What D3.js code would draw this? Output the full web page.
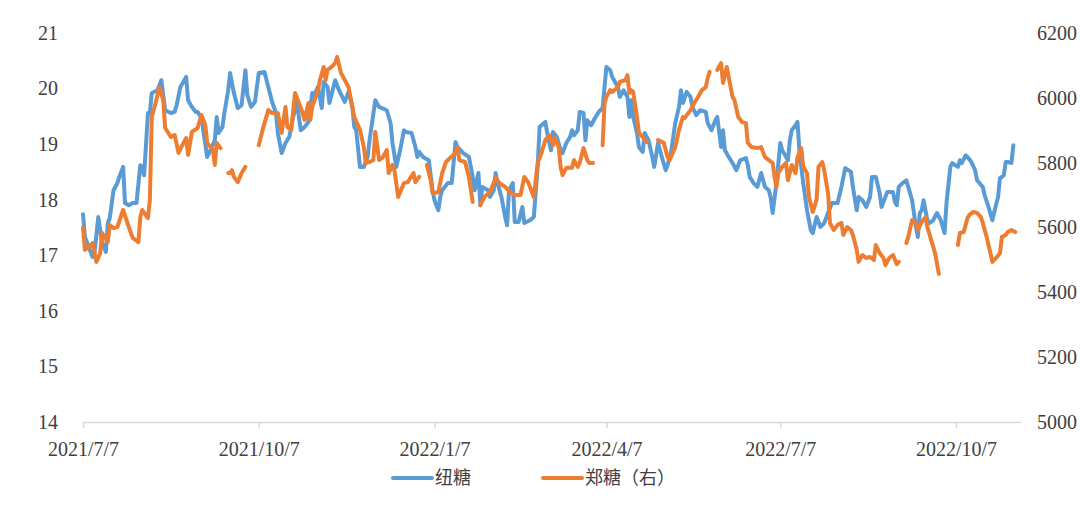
<!DOCTYPE html>
<html><head><meta charset="utf-8">
<script src="https://cdn.jsdelivr.net/npm/d3@7"></script>
<style>html,body{margin:0;padding:0;background:#fff;}
.num{font-family:"Liberation Serif","Times New Roman",Times,serif;font-size:20px;fill:#404040;}
.leg{font-family:"Noto Sans CJK SC","Noto Sans",sans-serif;font-size:18px;fill:#404040;}
</style>
</head><body><svg id="c" width="1080" height="519"></svg>
<script>
const startDate = "2021/7/7";
const endDate = "2022/11/10";
const xTickLabels = ["2021/7/7","2021/10/7","2022/1/7","2022/4/7","2022/7/7","2022/10/7"];
const leftTicks = [14,15,16,17,18,19,20,21];
const rightTicks = [5000,5200,5400,5600,5800,6000,6200];
const seriesNames = ["纽糖","郑糖（右）"];

// days after 2021/7/7
const blueDays = [0,1,3,5,6,8,10,12,13,14,16,18,19,21,22,24,26,28,30,31,32,34,35,36,39,41,43,46,48,49,51,54,55,57,59,60,62,65,66,69,70,71,73,74,76,77,79,81,83,85,86,88,90,92,95,97,99,101,102,104,106,108,110,112,114,116,118,120,121,123,125,126,128,129,132,134,137,139,141,142,143,145,147,149,150,153,155,159,161,162,164,166,168,169,172,174,175,176,178,181,183,184,186,187,188,191,193,195,196,199,202,204,205,207,208,209,212,213,215,216,217,219,221,222,223,225,226,228,230,231,234,236,238,239,240,242,243,245,246,248,250,251,253,255,256,257,259,260,262,263,264,266,268,270,272,273,274,276,277,280,281,283,285,286,287,288,290,291,293,294,296,298,299,301,303,305,306,308,310,312,313,314,316,318,319,321,323,326,327,329,331,332,334,335,336,338,340,342,344,347,348,349,351,353,355,357,359,360,361,363,364,365,366,369,370,371,373,374,375,377,379,381,382,384,386,388,390,392,395,397,399,402,403,405,406,408,410,412,413,415,417,418,420,421,424,425,426,427,429,431,432,434,436,437,438,439,440,442,443,445,447,449,451,452,454,455,458,459,460,462,463,465,467,468,471,472,474,476,477,479,480,482,483,484,486,487];
const blueValues = [17.74,17.33,17.15,16.97,17.04,17.69,17.22,17.06,17.58,17.67,
18.17,18.30,18.41,18.59,17.94,17.90,17.94,17.94,18.62,18.59,
18.44,19.56,19.56,19.92,19.97,20.15,19.61,19.56,19.58,19.70,
20.03,20.21,19.79,19.67,19.58,19.58,19.47,18.77,18.84,19.07,
19.49,19.20,19.31,19.56,19.97,20.28,19.92,19.65,19.70,20.33,
19.88,19.67,19.76,20.28,20.30,20.03,19.76,19.56,19.20,18.84,
19.02,19.13,19.49,19.74,19.25,19.31,19.40,19.92,19.88,20.03,
19.65,20.12,20.03,19.74,20.15,19.97,19.76,19.94,19.67,19.31,
19.25,18.59,18.59,18.77,19.07,19.79,19.67,19.61,19.38,19.02,
18.59,18.89,19.25,19.22,19.20,18.95,18.77,18.86,18.77,18.71,
18.17,17.99,17.81,18.05,18.17,18.30,18.30,19.04,18.95,18.84,
18.77,18.41,18.17,18.48,17.90,18.23,18.17,18.05,18.17,18.48,
18.30,18.05,17.69,17.54,18.17,18.30,17.60,17.60,17.87,17.58,
17.63,17.69,18.59,19.31,19.34,19.40,19.20,18.89,19.22,19.13,
18.89,18.84,19.02,19.13,19.25,19.16,19.25,19.58,19.56,19.07,
19.43,19.34,19.47,19.58,19.65,20.03,20.39,20.33,20.21,20.03,
19.85,19.97,19.85,19.49,19.79,19.49,19.20,18.95,18.86,19.20,
19.07,18.77,18.59,19.02,18.77,18.53,18.62,18.89,19.38,19.67,
19.97,19.74,19.94,19.85,19.67,19.52,19.61,19.58,19.38,19.25,
19.43,19.49,18.95,19.25,18.89,18.77,18.66,18.53,18.71,18.75,
18.62,18.41,18.30,18.23,18.48,18.23,18.17,18.03,17.76,18.30,
18.66,19.02,18.89,18.71,19.07,19.25,19.34,19.40,18.89,18.30,
17.81,17.45,17.40,17.69,17.51,17.58,17.76,17.94,17.94,18.23,
18.57,18.50,18.23,17.81,18.05,17.99,17.87,18.05,18.41,18.41,
18.12,17.87,18.05,18.14,18.14,17.96,17.90,18.23,18.30,18.35,
18.23,17.99,17.51,17.33,17.76,17.81,17.99,17.63,17.58,17.63,
17.76,17.63,17.40,17.94,18.59,18.66,18.59,18.71,18.66,18.80,
18.77,18.68,18.53,18.35,18.23,18.08,17.87,17.63,17.78,18.05,
18.39,18.44,18.68,18.68,18.66,18.98];

const orangeDays = [0,1,3,5,7,9,10,13,14,16,
18,21,24,26,29,30,31,34,35,36,
38,40,42,43,46,48,50,52,54,55,
57,60,62,64,65,68,69,70,72,74,
76,77,78,79,81,83,85,88,
92,94,97,99,102,104,106,107,109,111,
113,115,116,118,119,120,123,124,126,127,
128,130,132,133,135,137,139,141,142,145,
147,148,150,152,153,155,157,159,160,162,
163,165,168,170,173,174,176,178,
180,182,183,186,188,190,192,195,196,197,200,202,204,206,
208,210,213,216,218,221,224,226,229,231,
233,236,238,240,242,244,246,247,249,250,
251,253,256,257,259,260,262,264,265,267,270,
272,273,274,276,277,280,281,284,285,286,
287,288,290,291,293,295,297,
301,304,306,307,310,312,314,315,318,320,322,324,326,327,328,330,
332,334,335,337,338,340,341,343,345,347,
348,350,353,355,357,359,361,362,363,364,
366,368,369,371,373,374,376,377,379,380,
382,384,385,387,388,390,391,393,395,397,
398,400,402,403,405,406,408,410,412,414,
415,417,419,420,422,424,426,427,430,
431,432,434,436,437,439,441,442,444,446,448,452,
458,459,461,463,464,466,468,470,471,473,475,476,478,480,481,483,484,486,488];
const orangeValues = [5600,5531,5540,5552,5494,5521,5583,5555,5608,5598,
5601,5654,5601,5568,5555,5632,5654,5629,5685,5941,
5984,6033,5993,5907,5879,5885,5830,5854,5876,5824,
5895,5907,5947,5916,5861,5839,5793,5861,5845,null,
5768,5768,5777,5756,5740,5768,5787,null,
5854,5901,5962,5953,5953,5892,5972,5910,5901,6015,
5984,5953,5932,5984,5932,5972,6024,6055,6095,6055,
6086,6095,6107,6126,6077,6055,6033,5972,5941,5901,
5848,5799,5802,5808,5895,5808,5817,5839,5768,5793,
5777,5694,5737,5740,5768,5740,5756,null,
5793,5746,5706,5709,5768,5802,5814,5830,5848,5808,5802,5756,5679,null,
5669,5694,5709,5753,5737,5725,5706,5700,5700,5756,
5740,5694,5799,5830,5870,5885,5854,5876,5848,5787,
5762,5784,5784,5808,5787,5799,5845,5808,5799,5799,null,
5854,5984,6003,6024,6018,6033,6049,6055,6070,6015,
6024,6018,5941,5892,5879,5864,null,
5870,5861,5817,5808,5848,5901,5941,5938,5962,5984,6003,6024,6033,6061,6080,null,
6086,6107,6046,6095,6064,6003,5993,5941,5925,5922,
5861,5848,5845,5848,5817,5808,5799,5756,5725,5768,
5787,5799,5746,5793,5768,5817,5845,5787,5768,5694,
5648,5685,5787,5802,5777,5706,5614,5592,5608,5614,
5577,5601,5592,5577,5531,5494,5515,5506,5509,5500,
5546,5521,5506,5484,5506,5515,5487,5494,null,
5552,5571,5623,5614,5592,5617,5632,5601,5561,5521,5457,null,
5546,5583,5586,5629,5639,5648,5645,5632,5614,5571,5521,5494,5506,5521,5571,5577,5586,5592,5586];

const colors = ["#5B9BD5","#ED7D31"];
const parse = d3.timeParse("%Y/%m/%d");
const t0 = parse(startDate);
const toDate = n => d3.timeDay.offset(t0, n);

const svg = d3.select("#c");
const x = d3.scaleTime().domain([t0, parse(endDate)]).range([83, 1021]);
const yL = d3.scaleLinear().domain([14, 21]).range([422, 33]);
const yR = d3.scaleLinear().domain([5000, 6200]).range([422, 33]);

function styleText(g){
  g.attr("font-family", null).attr("font-size", null);
  g.selectAll("text").attr("class","num").attr("fill", null);
}

// x axis
const xAxis = d3.axisBottom(x)
  .tickValues(xTickLabels.map(parse))
  .tickFormat((d,i) => xTickLabels[i])
  .tickSizeInner(6).tickSizeOuter(0).tickPadding(14);
const gx = svg.append("g").attr("transform","translate(0,422)").call(xAxis);
gx.select(".domain").attr("stroke","#d9d9d9").attr("stroke-width",1.5);
gx.selectAll(".tick line").attr("stroke","#d9d9d9").attr("stroke-width",1.5);
styleText(gx);

// left axis
const gl = svg.append("g").attr("transform","translate(58,0)")
  .call(d3.axisLeft(yL).tickValues(leftTicks).tickFormat(d3.format("d")).tickSize(0).tickPadding(0));
gl.select(".domain").remove();
styleText(gl);

// right axis
const gr = svg.append("g").attr("transform","translate(1037,0)")
  .call(d3.axisRight(yR).tickValues(rightTicks).tickFormat(d3.format("d")).tickSize(0).tickPadding(0));
gr.select(".domain").remove();
styleText(gr);

const blue = blueDays.map((d,i) => ({date: toDate(d), v: blueValues[i]}));
const orange = orangeDays.map((d,i) => ({date: toDate(d), v: orangeValues[i]}));

const lineL = d3.line().defined(d => d.v != null).x(d => x(d.date)).y(d => yL(d.v));
const lineR = d3.line().defined(d => d.v != null).x(d => x(d.date)).y(d => yR(d.v));

svg.append("path").datum(blue).attr("d", lineL)
  .attr("fill","none").attr("stroke",colors[0]).attr("stroke-width",4)
  .attr("stroke-linejoin","round").attr("stroke-linecap","round");
svg.append("path").datum(orange).attr("d", lineR)
  .attr("fill","none").attr("stroke",colors[1]).attr("stroke-width",4)
  .attr("stroke-linejoin","round").attr("stroke-linecap","round");

// legend
const legendX = [393, 543];
const lg = svg.append("g");
seriesNames.forEach((name,i) => {
  lg.append("line").attr("x1",legendX[i]).attr("x2",legendX[i]+39)
    .attr("y1",478).attr("y2",478).attr("stroke",colors[i]).attr("stroke-width",4)
    .attr("stroke-linecap","round");
  lg.append("text").attr("class","leg").attr("x",legendX[i]+42).attr("y",478).attr("dy","0.35em")
    .text(name);
});
</script></body></html>
